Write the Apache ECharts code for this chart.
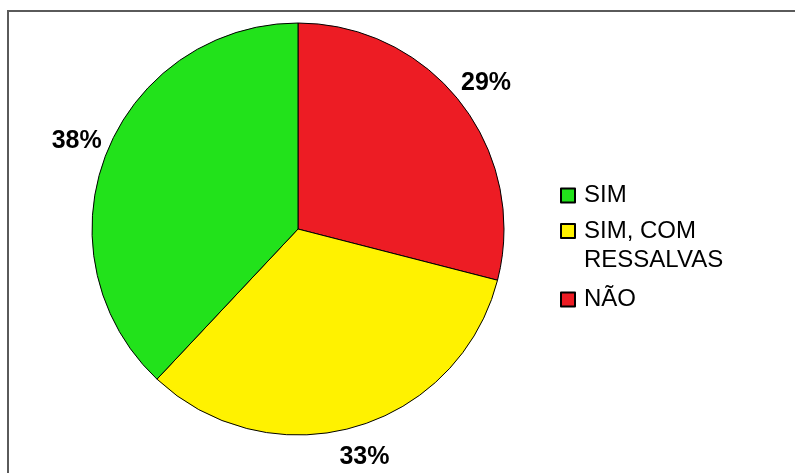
<!DOCTYPE html>
<html>
<head>
<meta charset="utf-8">
<script src="https://cdn.jsdelivr.net/npm/echarts@6/dist/echarts.min.js"></script>
<style>
  html, body { margin: 0; padding: 0; background: #fff; }
  #chart { width: 795px; height: 473px; }
</style>
</head>
<body>
<div id="chart"></div>
<script>
// pie data, clockwise from 12 o'clock
const categories = ["NÃO", "SIM, COM RESSALVAS", "SIM"];
const values = [29, 33, 38];
const colors = ["#ED1C24", "#FFF200", "#22E21B"];

// legend order as shown
const legendOrder = ["SIM", "SIM, COM RESSALVAS", "NÃO"];

const chart = echarts.init(document.getElementById("chart"));

const legendText = {
  color: "#000",
  fontFamily: "Liberation Sans, Arial, sans-serif",
  fontSize: 24,
  lineHeight: 29,
  padding: [0, 0, 0, 4],
};

let options = {
  backgroundColor: "#fff",
  animation: false,
  graphic: [
    {
      type: "rect",
      shape: { x: 8, y: 11, width: 800, height: 480 },
      style: { fill: "none", stroke: "#5a5a5a", lineWidth: 2 },
      silent: true,
    },
  ],
  legend: [
    {
      orient: "vertical",
      left: 560,
      top: 181,
      padding: 0,
      itemWidth: 14,
      itemHeight: 14,
      icon: "rect",
      data: [legendOrder[0]],
      textStyle: legendText,
    },
    {
      orient: "vertical",
      left: 560,
      top: 217,
      padding: 0,
      itemWidth: 14,
      itemHeight: 44,
      // square at the top of a taller box so it lines up with the first text line
      icon: "path://M0,0H14V14H0Z M0,44",
      data: [legendOrder[1]],
      formatter: (name) => name.replace("COM ", "COM\n"),
      textStyle: legendText,
    },
    {
      orient: "vertical",
      left: 560,
      top: 285,
      padding: 0,
      itemWidth: 14,
      itemHeight: 14,
      icon: "rect",
      data: [legendOrder[2]],
      textStyle: legendText,
    },
  ],
  series: [
    {
      type: "pie",
      center: [298, 229],
      radius: 206,
      startAngle: 90,
      clockwise: true,
      avoidLabelOverlap: false,
      itemStyle: {
        borderColor: "#000",
        borderWidth: 1,
      },
      label: {
        show: true,
        position: "outside",
        formatter: (p) => p.value + "%",
        color: "#000",
        fontFamily: "Liberation Sans, Arial, sans-serif",
        fontWeight: "bold",
        fontSize: 25,
      },
      labelLine: {
        show: true,
        length: 32,
        length2: 0,
        lineStyle: { width: 0, opacity: 0 },
      },
      labelLayout: (p) => {
        const pts = p.labelLinePoints;
        if (!pts) return {};
        return { x: pts[1][0], y: pts[1][1], align: "center", verticalAlign: "middle" };
      },
      emphasis: { disabled: true },
      data: categories.map((name, i) => ({
        name: name,
        value: values[i],
        itemStyle: { color: colors[i] },
      })),
    },
  ],
};

chart.setOption(options);
</script>
</body>
</html>
